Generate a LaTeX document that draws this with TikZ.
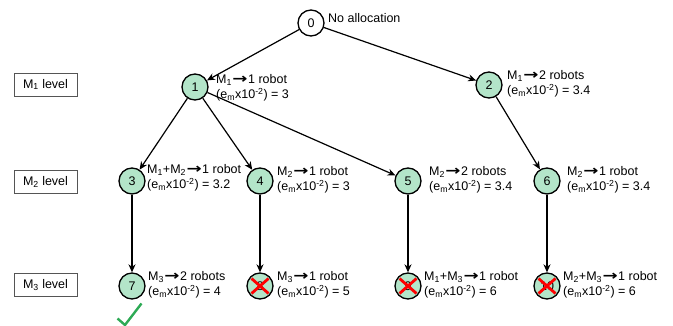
\documentclass[tikz,border=0pt]{standalone}
\usepackage{fontspec}
\usepackage{graphicx}
\setmainfont{Liberation Sans}
\newfontfamily\dejavu{DejaVu Sans}
\usetikzlibrary{arrows.meta}
\definecolor{nodegreen}{HTML}{B3E5C9}
\definecolor{checkgreen}{HTML}{2DAA55}
\definecolor{boxgray}{HTML}{555555}
\newcommand{\arr}{\kern0.5pt\scalebox{1.45}[1.1]{\dejavu\bfseries →}\kern0.5pt}
\newcommand{\emx}[1]{(e\textsubscript{m}x10\textsuperscript{-2}) = #1}
\begin{document}
\begin{tikzpicture}[x=1pt,y=-1pt,
  font=\fontsize{12.5}{14.5}\selectfont,
  tnode/.style={circle,draw=black,line width=1.3pt,fill=nodegreen,minimum size=26pt,inner sep=0pt},
  rootnode/.style={tnode,fill=white},
  lab/.style={anchor=west,align=left,inner sep=0pt},
  lvl/.style={draw=boxgray,line width=0.8pt,minimum width=63pt,minimum height=23pt,inner sep=0pt},
  edge/.style={line width=1.2pt,-{Stealth[length=8pt,width=7pt,inset=2.5pt]}},
  crossline/.style={red,line width=2.8pt},
]
\useasboundingbox (0,0) rectangle (673,326);
% level boxes
\node[lvl] (L1) at (45.5,84.5) {M\textsubscript{1} level};
\node[lvl] (L2) at (45.5,181.5) {M\textsubscript{2} level};
\node[lvl] (L3) at (45.5,285) {M\textsubscript{3} level};
% tree nodes
\node[rootnode] (n0) at (311,23) {0};
\node[tnode] (n1) at (195,87) {1};
\node[tnode] (n2) at (489,85) {2};
\node[tnode] (n3) at (132,181) {3};
\node[tnode] (n4) at (260,181) {4};
\node[tnode] (n5) at (408,181) {5};
\node[tnode] (n6) at (547,181) {6};
\node[tnode] (n7) at (132,286) {7};
\node[tnode] (n8) at (260,286) {8};
\node[tnode] (n9) at (408,286) {9};
\node[tnode] (n10) at (547,286) {10};
% labels
\node[lab] (l0) at (328,18) {No allocation};
\node[lab] (l1) at (216,88) {M\textsubscript{1}\arr1 robot\\\emx{3}};
\node[lab] (l2) at (507,84) {M\textsubscript{1}\arr2 robots\\\emx{3.4}};
\node[lab] (l3) at (147,178) {M\textsubscript{1}+M\textsubscript{2}\arr1 robot\\\emx{3.2}};
\node[lab] (l4) at (277,180) {M\textsubscript{2}\arr1 robot\\\emx{3}};
\node[lab] (l5) at (429,180) {M\textsubscript{2}\arr2 robots\\\emx{3.4}};
\node[lab] (l6) at (567,180) {M\textsubscript{2}\arr1 robot\\\emx{3.4}};
\node[lab] (l7) at (148,285) {M\textsubscript{3}\arr2 robots\\\emx{4}};
\node[lab] (l8) at (277,285) {M\textsubscript{3}\arr1 robot\\\emx{5}};
\node[lab] (l9) at (424,285) {M\textsubscript{1}+M\textsubscript{3}\arr1 robot\\\emx{6}};
\node[lab] (l10) at (563,285) {M\textsubscript{2}+M\textsubscript{3}\arr1 robot\\\emx{6}};
% edges
\draw[edge] (n0) -- (n1);
\draw[edge] (n0) -- (n2);
\draw[edge] (n1) -- (n3);
\draw[edge] (n1) -- (n4);
\draw[edge] (n1) -- (n5);
\draw[edge] (n2) -- (n6);
\draw[edge] (n3) -- (n7);
\draw[edge] (n4) -- (n8);
\draw[edge] (n5) -- (n9);
\draw[edge] (n6) -- (n10);
% crosses
\foreach \n in {n8,n9,n10}{
  \draw[crossline] ([shift={(-8.5,-7.5)}]\n.center) -- ([shift={(8.5,7.5)}]\n.center);
  \draw[crossline] ([shift={(-8.5,7.5)}]\n.center) -- ([shift={(8.5,-7.5)}]\n.center);
}
% check mark
\coordinate (c1) at (117.5,318.5);
\coordinate (c2) at (125,325);
\coordinate (c3) at (141.5,303.5);
\draw[checkgreen,line width=2.4pt] (c1) -- (c2) -- (c3);
\end{tikzpicture}
\end{document}
